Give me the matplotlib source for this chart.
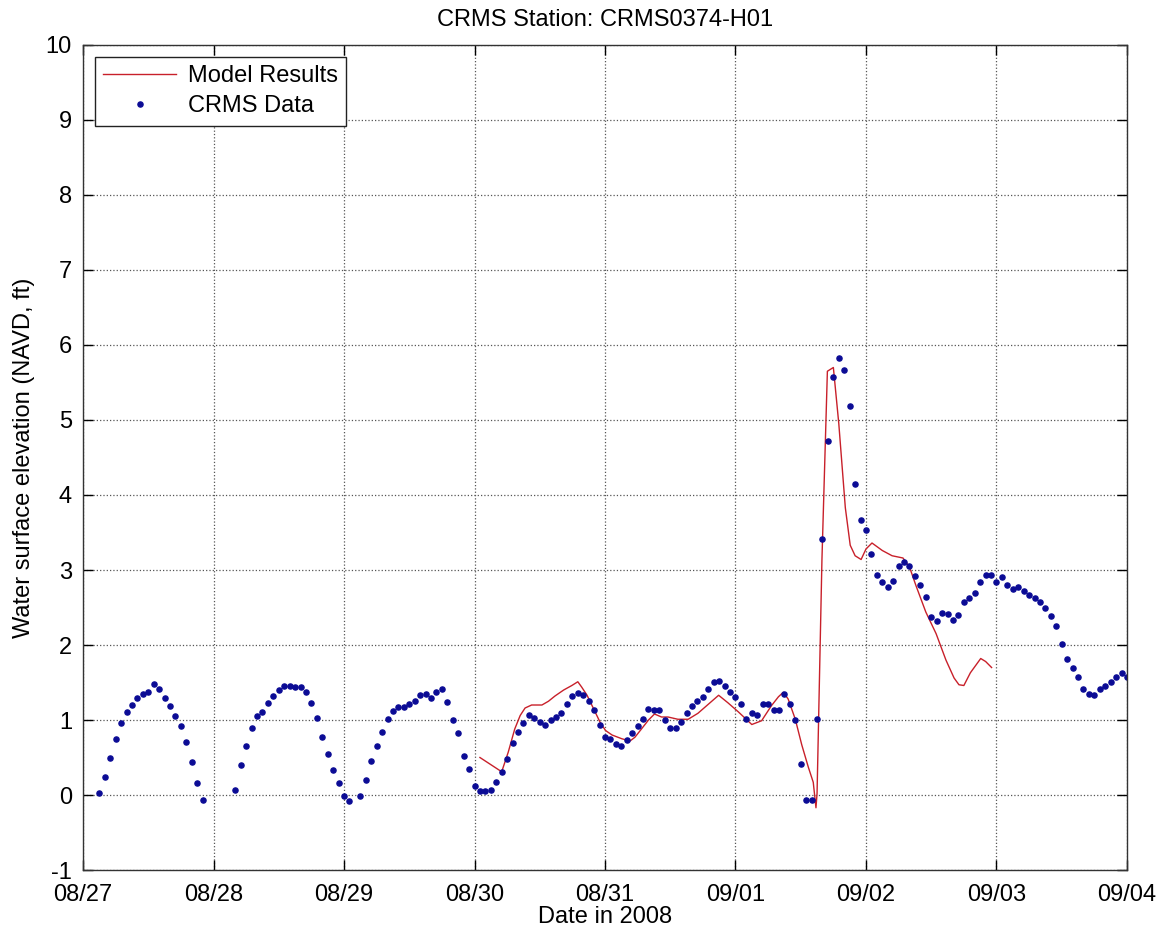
import numpy as np
import matplotlib
matplotlib.use("Agg")
import matplotlib.pyplot as plt
import matplotlib.dates as mdates

plt.rcParams['font.family'] = ['Liberation Sans', 'DejaVu Sans']
plt.rcParams['font.size'] = 17
plt.rcParams['axes.unicode_minus'] = False

# CRMS observations, hourly from 08/27 03:00 to 09/04 00:00 (nan = missing)
crms_start = np.datetime64('2008-08-27T03:00')
crms_vals = [
    0.03, 0.24, 0.50, 0.75, 0.96, 1.11, 1.20, 1.29, 1.35, 1.38,
    1.48, 1.42, 1.29, 1.19, 1.05, 0.92, 0.71, 0.44, 0.16, -0.07,
    np.nan, np.nan, np.nan, np.nan, np.nan,
    0.07, 0.40, 0.66, 0.90, 1.05, 1.11, 1.23, 1.32, 1.40, 1.46,
    1.46, 1.44, 1.44, 1.38, 1.23, 1.03, 0.78, 0.55, 0.34, 0.16,
    -0.01, -0.08, np.nan,
    -0.01, 0.20, 0.45, 0.65, 0.84, 1.01, 1.12, 1.17, 1.17, 1.22,
    1.26, 1.34, 1.35, 1.29, 1.38, 1.41, 1.24, 1.00, 0.83, 0.52,
    0.35, 0.12, 0.06, 0.05, 0.07, 0.17, 0.31, 0.48, 0.70, 0.84,
    0.96, 1.07, 1.03, 0.98, 0.93, 1.00, 1.04, 1.10, 1.22, 1.32,
    1.36, 1.34, 1.26, 1.13, 0.93, 0.77, 0.75, 0.68, 0.66, 0.74,
    0.83, 0.92, 1.01, 1.15, 1.14, 1.13, 1.00, 0.89, 0.90, 0.98,
    1.10, 1.19, 1.25, 1.31, 1.42, 1.51, 1.52, 1.46, 1.37, 1.31,
    1.21, 1.02, 1.10, 1.07, 1.22, 1.22, 1.14, 1.14, 1.35, 1.22,
    1.00, 0.41, -0.07, -0.07, 1.01, 3.41, 4.72, 5.57, 5.82, 5.67,
    5.18, 4.14, 3.66, 3.53, 3.22, 2.94, 2.84, 2.78, 2.85, 3.05,
    3.11, 3.05, 2.92, 2.80, 2.64, 2.37, 2.32, 2.43, 2.42, 2.34,
    2.40, 2.57, 2.63, 2.70, 2.84, 2.94, 2.94, 2.84, 2.91, 2.80,
    2.75, 2.78, 2.72, 2.67, 2.63, 2.57, 2.49, 2.39, 2.25, 2.02,
    1.81, 1.69, 1.57, 1.42, 1.35, 1.33, 1.41, 1.46, 1.51, 1.57,
    1.63, 1.57,
]

# model results: hours after 08/27 00:00 and water level
model_hours = [
    73.0, 77.0, 78.2, 79.4, 80.4, 81.3, 82.5, 84.4, 85.6, 86.8,
    88.4, 89.9, 91.0, 91.7, 92.7, 93.9, 95.1, 96.1, 97.3, 99.1,
    100.6, 101.5, 102.7, 104.0, 105.1, 106.4, 107.6, 109.4, 111.3, 113.1,
    115.0, 116.9, 118.6, 120.5, 123.0, 124.8, 126.6, 127.9, 128.8, 129.7,
    131.0, 132.2, 133.4, 134.3, 134.8, 135.0, 135.9, 136.9, 138.0, 139.0,
    140.2, 141.1, 142.0, 143.1, 144.0, 145.1, 147.0, 148.8, 150.8, 152.0,
    153.2, 155.0, 156.9, 158.7, 160.2, 161.1, 162.0, 163.2, 164.2, 165.1,
    166.0, 167.1,
]
model_vals = [
    0.50, 0.31, 0.57, 0.88, 1.06, 1.16, 1.20, 1.20, 1.25, 1.32,
    1.40, 1.46, 1.51, 1.44, 1.33, 1.15, 0.97, 0.86, 0.80, 0.75,
    0.72, 0.77, 0.88, 1.00, 1.08, 1.04, 1.04, 1.01, 1.01, 1.09,
    1.21, 1.33, 1.23, 1.11, 0.94, 0.99, 1.19, 1.31, 1.37, 1.28,
    1.01, 0.67, 0.37, 0.17, -0.17, 0.02, 3.14, 5.65, 5.70, 4.95,
    3.83, 3.33, 3.19, 3.14, 3.28, 3.36, 3.26, 3.19, 3.16, 3.04,
    2.79, 2.44, 2.15, 1.80, 1.56, 1.47, 1.46, 1.63, 1.73, 1.82,
    1.78, 1.70,
]

base = np.datetime64('2008-08-27T00:00')
crms_t = crms_start + np.arange(len(crms_vals)) * np.timedelta64(1, 'h')
model_t = base + (np.array(model_hours) * 60).astype('timedelta64[m]')
crms_t = crms_t.astype('datetime64[s]').astype(object)
model_t = model_t.astype('datetime64[s]').astype(object)

fig = plt.figure(figsize=(11.61, 9.35), dpi=100)
ax = fig.add_axes([0.0715, 0.0695, 0.8992, 0.8824])

ax.plot(model_t, model_vals, color='#c8202a', lw=1.0, label='Model Results')
ax.plot(crms_t, crms_vals, ls='none', marker='o', ms=3.7, color='#0b0b95',
        label='CRMS Data')

ax.set_xlim(np.datetime64('2008-08-27T00:00').astype(object),
            np.datetime64('2008-09-04T00:00').astype(object))
ax.set_ylim(-1, 10)
ax.set_yticks(range(-1, 11))
ax.xaxis.set_major_locator(mdates.DayLocator())
ax.xaxis.set_major_formatter(mdates.DateFormatter('%m/%d'))

ax.grid(True, ls=':', color='#555555', lw=0.9)
ax.tick_params(direction='in', top=True, right=True, length=7, width=1.0,
               labelsize=17)
ax.tick_params(axis='x', pad=10)
ax.tick_params(axis='y', pad=8)
for s in ax.spines.values():
    s.set_linewidth(1.0)
    s.set_color('#333333')

ax.set_title('CRMS Station: CRMS0374-H01', fontsize=17, pad=14)
ax.set_xlabel('Date in 2008', fontsize=17, labelpad=0)
ax.set_ylabel('Water surface elevation (NAVD, ft)', fontsize=17, labelpad=8)

leg = ax.legend(loc='upper left', fancybox=False, framealpha=1,
                edgecolor='#222222', handlelength=3.1, borderaxespad=0.5,
                fontsize=17, borderpad=0.35, labelspacing=0.35,
                handletextpad=0.5)
leg.get_frame().set_linewidth(1.0)

fig.savefig('out.png', dpi=100)
